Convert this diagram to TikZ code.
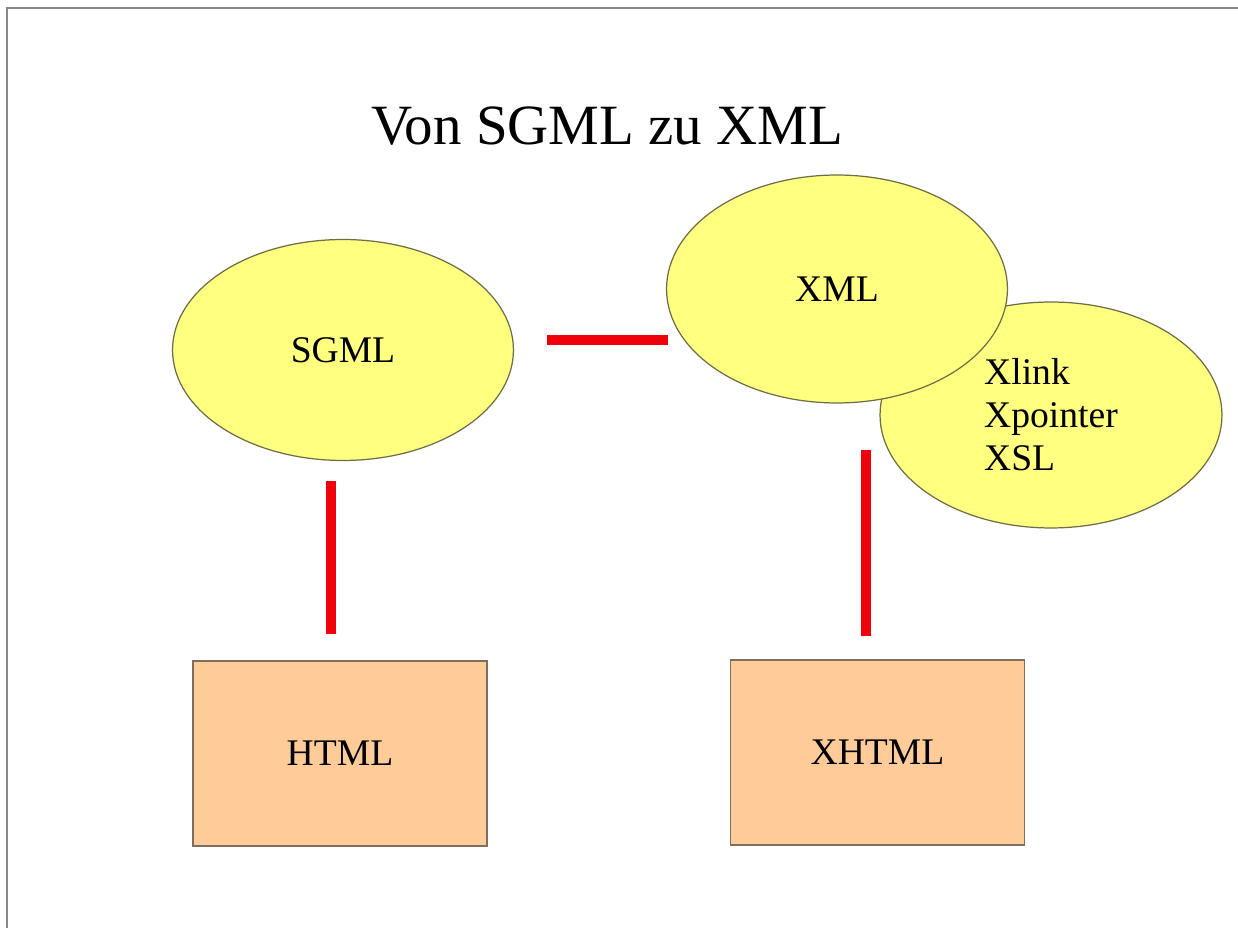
\documentclass[tikz,border=0pt]{standalone}
\usepackage{fontspec}
\setmainfont{Liberation Serif}
\usetikzlibrary{shapes.geometric}
\definecolor{ellfill}{RGB}{255,255,128}
\definecolor{ellline}{RGB}{110,110,70}
\definecolor{boxfill}{RGB}{255,204,153}
\definecolor{boxline}{RGB}{125,110,95}
\definecolor{linkred}{RGB}{240,0,10}
\definecolor{framegray}{RGB}{135,135,135}
\tikzset{
  oval/.style={ellipse, draw=ellline, line width=0.7pt, fill=ellfill, inner sep=0pt,
    font=\fontsize{21.4pt}{24.4pt}\selectfont},
  lbox/.style={rectangle, draw=boxline, line width=0.8pt, fill=boxfill, inner sep=0pt,
    minimum width=5.88cm, minimum height=3.7cm, font=\fontsize{21.4pt}{24.4pt}\selectfont},
  link/.style={draw=linkred, line width=5.6pt},
  title/.style={font=\fontsize{32.4pt}{36pt}\selectfont, inner sep=0pt}
}
\begin{document}
\begin{tikzpicture}[x=0.02cm,y=-0.02cm]
\useasboundingbox (0,0) rectangle (1238,928);
\fill[white] (0,0) rectangle (1238,928);
% frame
\draw[framegray, line width=1.6pt] (7,928) -- (7,8) -- (1238,8);
% title
\node[title] (title) at (607,126) {Von SGML zu XML};
% ellipses
\node[oval, minimum width=6.82cm, minimum height=4.42cm] (sgml) at (343,350) {SGML};
\node[oval, minimum width=6.84cm, minimum height=4.52cm, align=left] (xlink) at (1051,415) {Xlink\\Xpointer\\XSL};
\node[oval, minimum width=6.82cm, minimum height=4.56cm] (xml) at (837,289) {XML};
% boxes
\node[lbox] (html) at (340,753.5) {HTML};
\node[lbox] (xhtml) at (877.5,752.5) {XHTML};
% connector ends
\coordinate (sgmlR) at (547,340);
\coordinate (xmlL) at (668,340);
\coordinate (sgmlB) at (331,481);
\coordinate (htmlT) at (331,634);
\coordinate (xmlB) at (866,450);
\coordinate (xhtmlT) at (866,636);
\draw[link] (sgmlR) -- (xmlL);
\draw[link] (sgmlB) -- (htmlT);
\draw[link] (xmlB) -- (xhtmlT);
\end{tikzpicture}
\end{document}
